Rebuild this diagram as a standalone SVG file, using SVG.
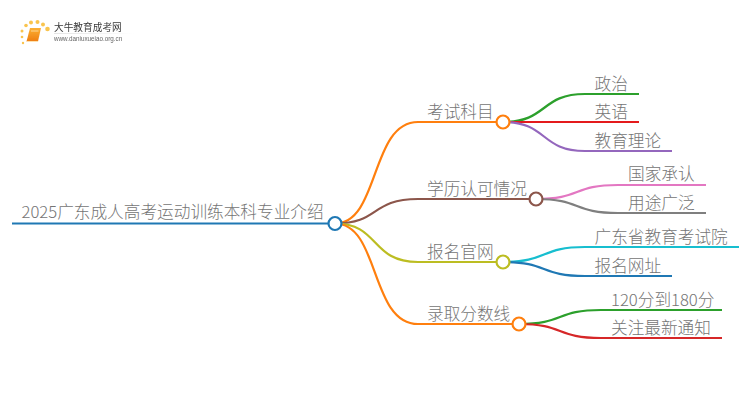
<svg xmlns="http://www.w3.org/2000/svg" width="750" height="410" viewBox="0 0 750 410">
<style>
text{font-family:"Noto Sans CJK SC","Liberation Sans",sans-serif;font-size:16.67px;font-weight:300;fill:#757575}
.c{fill:none;stroke-width:2.2}
.n{fill:#fff;stroke-width:2.2}
</style>
<defs><linearGradient id="b" x1="0" y1="0" x2="0" y2="1"><stop offset="0" stop-color="#fbb034"/><stop offset="1" stop-color="#ee7d11"/></linearGradient>
<linearGradient id="u" x1="0" y1="0" x2="1" y2="0"><stop offset="0" stop-color="#ddd"/><stop offset="1" stop-color="#fff"/></linearGradient>
<filter id="s" x="-5%" y="-5%" width="110%" height="110%"><feGaussianBlur stdDeviation="0.35"/></filter></defs>
<rect width="750" height="410" fill="#fff"/>
<g id="logo" filter="url(#s)">
<g fill="#f9c44e"><circle cx="22" cy="31" r="1.5"/><circle cx="26" cy="25.500" r="1.800"/><circle cx="31" cy="22.500" r="2"/><circle cx="37.500" cy="22" r="2"/><circle cx="43" cy="24.500" r="2"/><circle cx="47.500" cy="29" r="2.300"/><circle cx="22" cy="37" r="1.300"/><circle cx="23" cy="43" r="1.200"/></g>
<path d="M30 28H41L38 41.500H26.500Z" fill="url(#b)"/><path d="M27 41.500H38" stroke="#fde2b0" stroke-width="1"/><path d="M31 31H38.500" stroke="#fde2b0" stroke-width=".8"/>
<text x="54" y="31" style="font-size:9.700px;font-weight:400;fill:#3a3a3a">大牛教育成考网</text>
<rect x="54" y="33" width="80" height=".8" fill="url(#u)"/>
<text x="54" y="41" style="font-size:6.300px;font-weight:400;fill:#666;font-family:'Liberation Sans',sans-serif">www.daniuxueiao.org.cn</text>
</g>
<g id="connectors">
<path class="c" stroke="#1f78b4" d="M12 223.500H335"/>
<path class="c" stroke="#ff7f0e" d="M335 223.500C380 223.500 370 122 418 122H503"/>
<path class="c" stroke="#8c564b" d="M335 223.500C380 223.500 370 199 418 199H536"/>
<path class="c" stroke="#bcbd22" d="M335 223.500C380 223.500 370 262 418 262H503"/>
<path class="c" stroke="#ff7f0e" d="M335 223.500C380 223.500 370 324 418 324H519"/>
<path class="c" stroke="#2ca02c" d="M503 122C548 122 540 94 585 94H639"/>
<path class="c" stroke="#e41a1c" d="M503 122H639"/>
<path class="c" stroke="#9467bd" d="M503 122C548 122 540 151 585 151H672"/>
<path class="c" stroke="#e377c2" d="M536 199C581 199 573 185 618 185H706"/>
<path class="c" stroke="#7f7f7f" d="M536 199C581 199 573 213 618 213H706"/>
<path class="c" stroke="#17becf" d="M503 262C548 262 540 247 585 247H739"/>
<path class="c" stroke="#1f78b4" d="M503 262C548 262 540 276 585 276H672"/>
<path class="c" stroke="#2ca02c" d="M519 324C564 324 556 310 601 310H722"/>
<path class="c" stroke="#d62728" d="M519 324C564 324 556 338 601 338H722"/>
</g>
<g id="root"><text x="21.500" y="217.500">2025广东成人高考运动训练本科专业介绍</text><circle class="n" stroke="#1f78b4" cx="335" cy="223.500" r="6.500"/></g>
<g id="n1"><text x="427" y="117.500">考试科目</text><circle class="n" stroke="#ff7f0e" cx="503" cy="122" r="6.500"/></g>
<g id="n2"><text x="427" y="194.500">学历认可情况</text><circle class="n" stroke="#8c564b" cx="536" cy="199" r="6.500"/></g>
<g id="n3"><text x="427" y="257.500">报名官网</text><circle class="n" stroke="#bcbd22" cx="503" cy="262" r="6.500"/></g>
<g id="n4"><text x="427" y="319.500">录取分数线</text><circle class="n" stroke="#ff7f0e" cx="519" cy="324" r="6.500"/></g>
<g id="l1"><text x="594.500" y="89.500">政治</text></g>
<g id="l2"><text x="594.500" y="118">英语</text></g>
<g id="l3"><text x="594.500" y="146.500">教育理论</text></g>
<g id="l4"><text x="628" y="180">国家承认</text></g>
<g id="l5"><text x="628" y="208.500">用途广泛</text></g>
<g id="l6"><text x="594.500" y="243">广东省教育考试院</text></g>
<g id="l7"><text x="594.500" y="271.500">报名网址</text></g>
<g id="l8"><text x="611" y="305.500">120分到180分</text></g>
<g id="l9"><text x="611" y="333.500">关注最新通知</text></g>
</svg>
